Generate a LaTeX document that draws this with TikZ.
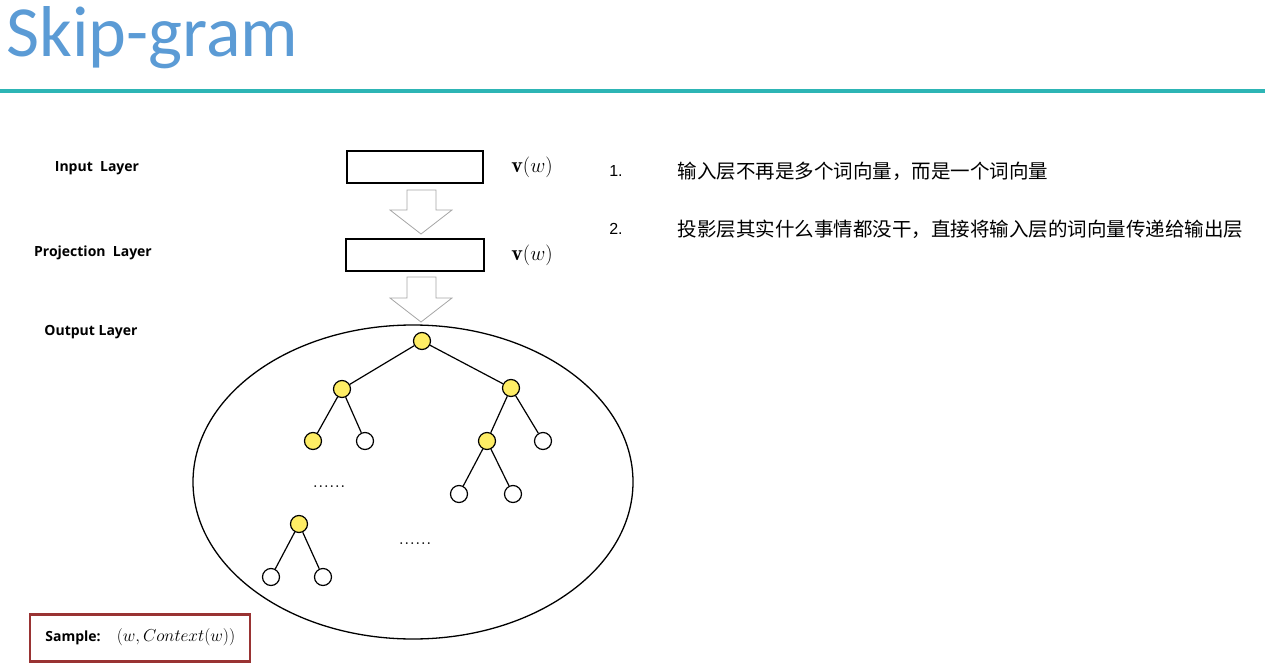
\documentclass[tikz,border=0pt]{standalone}
\usepackage{fontspec}
\usetikzlibrary{shapes.geometric}
\setsansfont{Carlito}
\newfontfamily\cjk{Noto Sans CJK SC}
\newfontfamily\lab{Open Sans}
\newfontfamily\ari{Liberation Sans}
\definecolor{titleblue}{HTML}{5B9BD5}
\definecolor{tealline}{HTML}{2DB5B5}
\begin{document}
\begin{tikzpicture}[x=1pt,y=-1pt,
  layerlab/.style={font=\lab\bfseries\fontsize{14}{16}\selectfont,anchor=center},
  boxn/.style={draw,line width=2.5pt,minimum width=136pt,minimum height=32pt,inner sep=0},
  tn/.style={circle,draw,line width=1.2pt,minimum size=17pt,inner sep=0},
  yn/.style={tn,fill=yellow!85!orange!60},
  wn/.style={tn,fill=white},
  edge/.style={line width=1.2pt},
  hollow/.style={draw=gray!70,line width=0.8pt,fill=white}]
\useasboundingbox (0,0) rectangle (1265,668);
\node[anchor=west,font=\sffamily\fontsize{72}{76}\selectfont,text=titleblue] (title) at (3,38) {Skip-gram};
\draw[line width=3.5pt,color=tealline] (0,91) -- (1265,91);
\node[layerlab] (il) at (97,168) {Input\ \ Layer};
\node[layerlab] (pl) at (93,253) {Projection\ \ Layer};
\node[layerlab] (ol) at (91,332) {Output Layer};
\node[boxn] (ib) at (415,167) {};
\node[boxn,minimum width=138pt] (pb) at (415,255) {};
\node[font=\fontsize{22}{24}\selectfont] (v1) at (532,167) {$\mathbf{v}(w)$};
\node[font=\fontsize{22}{24}\selectfont] (v2) at (532,255) {$\mathbf{v}(w)$};
\foreach \t/\b in {190/210,277/298}{
 \draw[hollow] (407,\t) -- (436,\t) -- (436,\b) -- (452,\b) -- (421,\b+24) -- (390,\b) -- (407,\b) -- cycle;}
\node[draw,ellipse,line width=1.3pt,minimum width=440pt,minimum height=314pt,inner sep=0] (ell) at (413,482) {};
\node[yn] (r) at (422,341) {};
\node[yn] (l) at (342,389) {};
\node[yn] (rr) at (511,388) {};
\node[yn] (ll) at (313,441) {};
\node[wn] (lr) at (365,441) {};
\node[yn] (rl) at (487,441) {};
\node[wn] (rrr) at (543,441) {};
\node[wn] (rll) at (459,494) {};
\node[wn] (rlr) at (513,494) {};
\node[yn] (a) at (299,524) {};
\node[wn] (al) at (271,577) {};
\node[wn] (ar) at (323,577) {};
\draw[edge] (r)--(l) (r)--(rr) (l)--(ll) (l)--(lr) (rr)--(rl) (rr)--(rrr) (rl)--(rll) (rl)--(rlr) (a)--(al) (a)--(ar);
\node[font=\fontsize{22}{22}\selectfont] (d1) at (329,487) {......};
\node[font=\fontsize{22}{22}\selectfont] (d2) at (415,544) {......};
\node[draw=red!50!black!80,line width=2.5pt,minimum width=220pt,minimum height=47pt,inner sep=0] (sb) at (140,638) {};
\node[font=\lab\bfseries\fontsize{14}{16}\selectfont] (st) at (73,638) {Sample:};
\node[font=\fontsize{18}{20}\selectfont] (sm) at (176,637) {$(w,Context(w))$};
\node[font=\ari\fontsize{16}{18}\selectfont] (n1) at (616,171) {1.};
\node[anchor=west,font=\cjk\fontsize{19.5}{22}\selectfont] (t1) at (674,171) {输入层不再是多个词向量，而是一个词向量};
\node[font=\ari\fontsize{16}{18}\selectfont] (n2) at (616,229) {2.};
\node[anchor=west,font=\cjk\fontsize{19.5}{22}\selectfont] (t2) at (674,229) {投影层其实什么事情都没干，直接将输入层的词向量传递给输出层};
\end{tikzpicture}
\end{document}
